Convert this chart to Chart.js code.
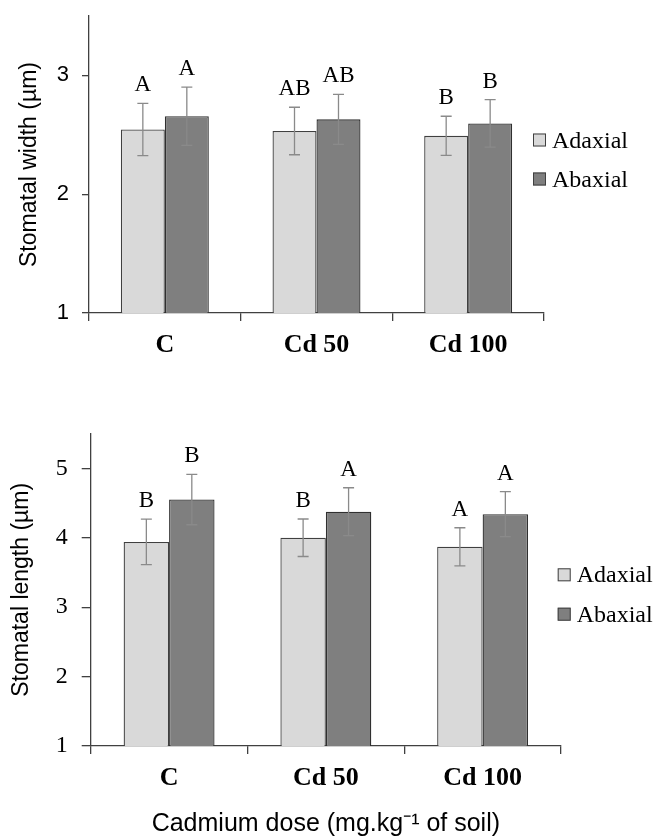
<!DOCTYPE html>
<html><head><meta charset="utf-8">
<script src="https://cdn.jsdelivr.net/npm/chart.js@4"></script>
<style>
html,body{margin:0;padding:0;background:#fff;width:656px;height:836px;overflow:hidden}
canvas{position:absolute;left:0}
#c1{top:0}
#c2{top:410px}
</style></head><body>
<canvas id="c1" width="656" height="410"></canvas>
<canvas id="c2" width="656" height="426"></canvas>
<script>
const categories = ['C', 'Cd 50', 'Cd 100'];
const seriesNames = ['Adaxial', 'Abaxial'];

const widthAdaxial = [2.545, 2.532, 2.491];
const widthAbaxial = [2.656, 2.630, 2.596];
const widthAdaxialErr = [0.22, 0.20, 0.165];
const widthAbaxialErr = [0.245, 0.21, 0.20];
const widthAdaxialLetters = ['A', 'AB', 'B'];
const widthAbaxialLetters = ['A', 'AB', 'B'];
const widthTicks = [1, 2, 3];

const lengthAdaxial = [3.94, 4.00, 3.87];
const lengthAbaxial = [4.55, 4.375, 4.34];
const lengthAdaxialErr = [0.327, 0.27, 0.274];
const lengthAbaxialErr = [0.363, 0.345, 0.325];
const lengthAdaxialLetters = ['B', 'B', 'A'];
const lengthAbaxialLetters = ['B', 'A', 'A'];
const lengthTicks = [1, 2, 3, 4, 5];

const errPlugin = {
  id: 'errs',
  afterDatasetsDraw(chart) {
    const ctx = chart.ctx, y = chart.scales.y;
    chart.data.datasets.forEach((ds, di) => {
      const meta = chart.getDatasetMeta(di);
      meta.data.forEach((bar, i) => {
        const v = ds.data[i], e = ds.errors[i], x = bar.x;
        const yt = y.getPixelForValue(v + e), yb = y.getPixelForValue(v - e);
        ctx.save();
        ctx.strokeStyle = '#8a8a8a';
        ctx.lineWidth = 1.3;
        ctx.beginPath();
        ctx.moveTo(x, yt); ctx.lineTo(x, yb);
        ctx.moveTo(x - 5.5, yt); ctx.lineTo(x + 5.5, yt);
        ctx.moveTo(x - 5.5, yb); ctx.lineTo(x + 5.5, yb);
        ctx.stroke();
        ctx.fillStyle = '#000';
        ctx.font = '23px "Liberation Serif"';
        ctx.textAlign = 'center';
        ctx.textBaseline = 'alphabetic';
        ctx.fillText(ds.letters[i], x, yt - 12);
        ctx.restore();
      });
    });
  }
};

const legendPlugin = {
  id: 'sideLegend',
  afterDraw(chart, args, opts) {
    const ctx = chart.ctx;
    chart.data.datasets.forEach((ds, i) => {
      const bx = opts.x, by = opts.y + i * opts.gap;
      ctx.save();
      ctx.fillStyle = ds.backgroundColor;
      ctx.fillRect(bx, by - 14, 13, 13);
      ctx.strokeStyle = '#404040';
      ctx.lineWidth = 1;
      ctx.strokeRect(bx + 0.5, by - 13.5, 12, 12);
      ctx.fillStyle = '#000';
      ctx.font = '24px "Liberation Serif"';
      ctx.textAlign = 'left';
      ctx.textBaseline = 'alphabetic';
      ctx.fillText(ds.label, bx + 19, by);
      ctx.restore();
    });
  }
};

function buildChart(id, cfg) {
  return new Chart(document.getElementById(id), {
    type: 'bar',
    data: {
      labels: categories,
      datasets: [
        { label: seriesNames[0], data: cfg.ad, errors: cfg.adErr, letters: cfg.adLet,
          backgroundColor: '#d9d9d9', borderColor: '#404040', borderWidth: 1.3,
          categoryPercentage: 0.58, barPercentage: 1 },
        { label: seriesNames[1], data: cfg.ab, errors: cfg.abErr, letters: cfg.abLet,
          backgroundColor: '#7f7f7f', borderColor: '#303030', borderWidth: 1.3,
          categoryPercentage: 0.58, barPercentage: 1 }
      ]
    },
    options: {
      responsive: false,
      animation: false,
      layout: { padding: cfg.padding },
      plugins: {
        legend: { display: false },
        tooltip: { enabled: false },
        sideLegend: cfg.legend
      },
      scales: {
        x: {
          z: 1,
          grid: { drawOnChartArea: false, drawTicks: true, tickLength: 8, color: '#404040', lineWidth: 1.3, offset: true },
          border: { display: true, color: '#404040', width: 1.3 },
          ticks: { color: '#000', font: { family: '"Liberation Serif"', size: 26, weight: 'bold' }, padding: 8.5 },
          title: { display: !!cfg.xTitle, text: cfg.xTitle || '', color: '#000',
                   font: { family: '"Liberation Sans"', size: 25, lineHeight: 0.94 }, padding: 0 },
          afterFit(s) { s.height = cfg.xHeight; s.paddingLeft = 0; s.paddingRight = 0; }
        },
        y: {
          z: 1,
          min: 1,
          max: cfg.max,
          afterBuildTicks(s) { s.ticks = cfg.ticks.map(v => ({ value: v })); },
          grid: { drawOnChartArea: false, tickLength: cfg.yTickLen, color: '#404040', lineWidth: 1.3 },
          border: { color: '#404040', width: 1.3 },
          ticks: { color: '#000', font: cfg.yTickFont, padding: cfg.yTickPad },
          title: { display: true, text: cfg.yTitle, color: '#000',
                   font: { family: '"Liberation Sans"', size: 23, lineHeight: 1.2 }, padding: 0 },
          afterFit(s) { s.width = cfg.yWidth; s.paddingTop = 0; s.paddingBottom = 0; }
        }
      }
    },
    plugins: [errPlugin, legendPlugin]
  });
}

buildChart('c1', {
  ad: widthAdaxial, ab: widthAbaxial, adErr: widthAdaxialErr, abErr: widthAbaxialErr,
  adLet: widthAdaxialLetters, abLet: widthAbaxialLetters,
  ticks: widthTicks, max: 3.5,
  yTitle: 'Stomatal width (µm)',
  yTickFont: { family: '"Liberation Sans"', size: 22 }, yTickLen: 7, yTickPad: 13,
  padding: { left: 16, right: 112, top: 16, bottom: 0 },
  yWidth: 73, xHeight: 97,
  legend: { x: 533, y: 147.5, gap: 39 }
});

buildChart('c2', {
  ad: lengthAdaxial, ab: lengthAbaxial, adErr: lengthAdaxialErr, abErr: lengthAbaxialErr,
  adLet: lengthAdaxialLetters, abLet: lengthAbaxialLetters,
  ticks: lengthTicks, max: 5.5,
  yTitle: 'Stomatal length (µm)',
  xTitle: 'Cadmium dose (mg.kg⁻¹ of soil)',
  yTickFont: { family: '"Liberation Serif"', size: 24 }, yTickLen: 9, yTickPad: 14,
  padding: { left: 8, right: 95, top: 23.6, bottom: 0 },
  yWidth: 82.7, xHeight: 90,
  legend: { x: 557.7, y: 172.3, gap: 39.4 }
});
</script>
</body></html>
